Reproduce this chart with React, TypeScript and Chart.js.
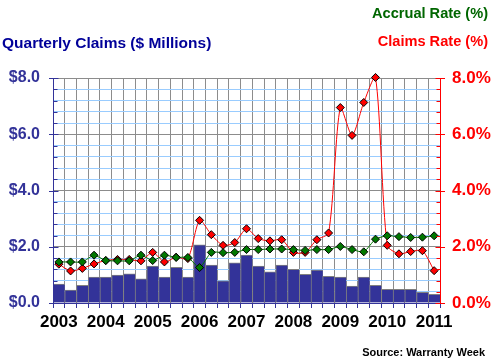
import React, { useEffect, useRef } from 'react';
import { Chart, registerables } from 'chart.js';

Chart.register(...registerables);

const quarters = [
  '2003 Q1', '2003 Q2', '2003 Q3', '2003 Q4',
  '2004 Q1', '2004 Q2', '2004 Q3', '2004 Q4',
  '2005 Q1', '2005 Q2', '2005 Q3', '2005 Q4',
  '2006 Q1', '2006 Q2', '2006 Q3', '2006 Q4',
  '2007 Q1', '2007 Q2', '2007 Q3', '2007 Q4',
  '2008 Q1', '2008 Q2', '2008 Q3', '2008 Q4',
  '2009 Q1', '2009 Q2', '2009 Q3', '2009 Q4',
  '2010 Q1', '2010 Q2', '2010 Q3', '2010 Q4',
  '2011 Q1',
];
const yearLabels = ['2003', '2004', '2005', '2006', '2007', '2008', '2009', '2010', '2011'];

const quarterlyClaims = [
  0.67, 0.46, 0.63, 0.92, 0.92, 0.99, 1.04, 0.86,
  1.31, 0.92, 1.27, 0.92, 2.07, 1.35, 0.79, 1.43,
  1.70, 1.31, 1.11, 1.35, 1.20, 1.02, 1.17, 0.95,
  0.92, 0.60, 0.92, 0.63, 0.49, 0.49, 0.49, 0.38,
  0.31,
];
const claimsRate = [
  1.38, 1.14, 1.23, 1.39, 1.51, 1.55, 1.55, 1.50,
  1.80, 1.46, 1.63, 1.58, 2.94, 2.43, 2.05, 2.15,
  2.64, 2.29, 2.21, 2.25, 1.80, 1.80, 2.25, 2.49,
  6.95, 5.96, 7.13, 8.02, 2.05, 1.75, 1.83, 1.86,
  1.15,
];
const accrualRate = [
  1.46, 1.46, 1.46, 1.70, 1.51, 1.50, 1.50, 1.70,
  1.51, 1.70, 1.62, 1.62, 1.26, 1.80, 1.79, 1.80,
  1.90, 1.90, 1.92, 1.92, 1.90, 1.87, 1.90, 1.90,
  2.01, 1.90, 1.82, 2.27, 2.39, 2.36, 2.33, 2.34,
  2.39,
];
const leftTickLabels = ['$0.0', '$2.0', '$4.0', '$6.0', '$8.0'];
const rightTickLabels = ['0.0%', '2.0%', '4.0%', '6.0%', '8.0%'];

const NAVY = '#333399';
const RED = '#FF0000';
const GREEN = '#007700';
const FONT = '"Liberation Sans", Arial, sans-serif';

const minorIndex = (v: number) => Math.round(v / 0.4);
const isMajor = (v: number) => minorIndex(v) % 5 === 0;

const axisPlugin = {
  id: 'axisLines',
  afterDatasetsDraw(chart: any) {
    const { ctx, chartArea, scales } = chart;
    const yl = scales.y;
    const yr = scales.y2;
    ctx.save();
    ctx.lineWidth = 1;
    const lx = Math.round(chartArea.left) + 0.5;
    const rx = Math.round(chartArea.right) + 0.5;
    const by = Math.round(chartArea.bottom) + 0.5;
    ctx.strokeStyle = NAVY;
    ctx.beginPath();
    ctx.moveTo(lx - 4, by);
    ctx.lineTo(rx, by);
    ctx.stroke();
    ctx.beginPath();
    ctx.moveTo(lx, Math.round(chartArea.top));
    ctx.lineTo(lx, by + 0.5);
    yl.ticks.forEach((t: any) => {
      const py = Math.round(yl.getPixelForValue(t.value)) + 0.5;
      if (isMajor(t.value)) {
        ctx.moveTo(lx - 4.5, py);
        ctx.lineTo(lx + 5, py);
      } else {
        ctx.moveTo(lx, py);
        ctx.lineTo(lx + 4, py);
      }
    });
    ctx.stroke();
    ctx.strokeStyle = RED;
    ctx.beginPath();
    ctx.moveTo(rx, Math.round(chartArea.top));
    ctx.lineTo(rx, by + 0.5);
    yr.ticks.forEach((t: any) => {
      const py = Math.round(yr.getPixelForValue(t.value)) + 0.5;
      if (isMajor(t.value)) {
        ctx.moveTo(rx - 5, py);
        ctx.lineTo(rx + 4.5, py);
      } else {
        ctx.moveTo(rx - 4, py);
        ctx.lineTo(rx, py);
      }
    });
    ctx.stroke();
    ctx.restore();
  },
};

function ChartCanvas() {
  const ref = useRef<HTMLCanvasElement | null>(null);
  useEffect(() => {
    if (!ref.current) return;
    const chart = new Chart(ref.current, {
      type: 'bar',
      data: {
        labels: quarters,
        datasets: [
          {
            type: 'line',
            label: 'Accrual Rate (%)',
            data: accrualRate,
            yAxisID: 'y2',
            borderColor: GREEN,
            borderWidth: 1,
            backgroundColor: GREEN,
            pointStyle: 'rectRot',
            pointRadius: 4,
            pointBackgroundColor: GREEN,
            pointBorderColor: '#000000',
            pointBorderWidth: 1,
            tension: 0.2,
            clip: false,
            order: 1,
          } as any,
          {
            type: 'line',
            label: 'Claims Rate (%)',
            data: claimsRate,
            yAxisID: 'y2',
            borderColor: RED,
            borderWidth: 1,
            backgroundColor: RED,
            pointStyle: 'rectRot',
            pointRadius: 4,
            pointBackgroundColor: RED,
            pointBorderColor: '#000000',
            pointBorderWidth: 1,
            tension: 0.25,
            clip: false,
            order: 2,
          } as any,
          {
            type: 'bar',
            label: 'Quarterly Claims ($ Millions)',
            data: quarterlyClaims,
            yAxisID: 'y',
            backgroundColor: NAVY,
            borderColor: '#808080',
            borderWidth: { top: 1, left: 1, right: 0, bottom: 0 },
            barPercentage: 1,
            categoryPercentage: 1,
            order: 3,
          } as any,
        ],
      },
      options: {
        responsive: false,
        animation: false,
        devicePixelRatio: 1,
        layout: { padding: { top: 78, left: 0, right: 0, bottom: 0 } },
        plugins: {
          legend: { display: false },
          tooltip: { enabled: false },
          title: { display: false },
        },
        scales: {
          x: {
            offset: true,
            afterFit: (s: any) => { s.height = 61; },
            grid: {
              offset: true,
              color: '#8c8c8c',
              lineWidth: 1,
              drawTicks: true,
              tickLength: 5,
              tickColor: NAVY,
            },
            border: { display: false },
            ticks: {
              autoSkip: false,
              maxRotation: 0,
              minRotation: 0,
              padding: 4,
              color: '#000000',
              font: { family: FONT, size: 17, weight: 'bold' },
              callback: (_v: any, i: number) => (i % 4 === 0 ? yearLabels[i / 4] : ''),
            },
          },
          y: {
            position: 'left',
            min: 0,
            max: 8,
            afterFit: (s: any) => { s.width = 53; },
            grid: {
              color: (c: any) => (c.tick && isMajor(c.tick.value) ? '#8c8c8c' : '#99CCFF'),
              lineWidth: 1,
              drawTicks: false,
            },
            border: { display: false },
            ticks: {
              stepSize: 0.4,
              autoSkip: false,
              padding: 13,
              color: NAVY,
              font: { family: FONT, size: 16, weight: 'bold' },
              callback: (v: any) => {
                const i = minorIndex(Number(v));
                return i % 5 === 0 ? leftTickLabels[i / 5] : '';
              },
            },
          },
          y2: {
            position: 'right',
            min: 0,
            max: 8,
            afterFit: (s: any) => { s.width = 56; },
            grid: { drawOnChartArea: false, drawTicks: false },
            border: { display: false },
            ticks: {
              stepSize: 0.4,
              autoSkip: false,
              padding: 12,
              color: RED,
              font: { family: FONT, size: 17, weight: 'bold' },
              callback: (v: any) => {
                const i = minorIndex(Number(v));
                return i % 5 === 0 ? rightTickLabels[i / 5] : '';
              },
            },
          },
        },
      } as any,
      plugins: [axisPlugin],
    });
    return () => chart.destroy();
  }, []);
  return <canvas ref={ref} width={496} height={364} style={{ display: 'block', width: 496, height: 364 }} />;
}

const textBase: React.CSSProperties = {
  position: 'absolute',
  fontFamily: FONT,
  fontWeight: 'bold',
  whiteSpace: 'nowrap',
  lineHeight: 1,
};

export default function App() {
  return (
    <div style={{ position: 'absolute', left: 0, top: 0, width: 496, height: 364, background: '#ffffff', overflow: 'hidden' }}>
      <ChartCanvas />
      <div style={{ ...textBase, right: 8, top: 5.5, fontSize: 14.6, color: '#006600' }}>Accrual Rate (%)</div>
      <div style={{ ...textBase, right: 8, top: 34, fontSize: 14.6, color: RED }}>Claims Rate (%)</div>
      <div style={{ ...textBase, left: 2, top: 35.4, fontSize: 15.5, color: '#000099' }}>Quarterly Claims ($ Millions)</div>
      <div style={{ ...textBase, right: 11, top: 347, fontSize: 11, color: '#000000' }}>Source: Warranty Week</div>
    </div>
  );
}
